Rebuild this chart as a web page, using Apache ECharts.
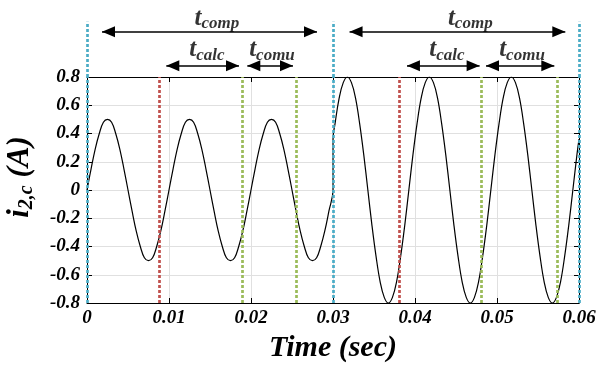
<!DOCTYPE html>
<html>
<head>
<meta charset="utf-8">
<script src="https://cdn.jsdelivr.net/npm/echarts@6/dist/echarts.min.js"></script>
<style>
  html, body { margin: 0; padding: 0; background: #fff; }
  #chart { width: 610px; height: 365px; }
</style>
</head>
<body>
<div id="chart"></div>
<script>
// first part: one sample every 0.5 ms from t = 0
const sampleStep = 0.0005;
const firstStart = 0;
const firstCurrent = [
  0, 0.15, 0.29, 0.40, 0.48, 0.50, 0.48, 0.40, 0.29, 0.15,
  0, -0.15, -0.29, -0.40, -0.48, -0.50, -0.48, -0.40, -0.29, -0.15,
  0, 0.15, 0.29, 0.40, 0.48, 0.50, 0.48, 0.40, 0.29, 0.15,
  0, -0.15, -0.29, -0.40, -0.48, -0.50, -0.48, -0.40, -0.29, -0.15,
  0, 0.15, 0.29, 0.40, 0.48, 0.50, 0.48, 0.40, 0.29, 0.15,
  0, -0.15, -0.29, -0.40, -0.48, -0.50, -0.48, -0.40, -0.29, -0.15,
  0
];
// second part: jump at 0.03, then samples every 0.5 ms from 0.03025
const jumpPoint = [0.03, 0.36];
const secondStart = 0.03025;
const secondCurrent = [
  0.47, 0.65, 0.76, 0.80, 0.76, 0.65, 0.47, 0.25, 0, -0.25,
  -0.47, -0.65, -0.76, -0.80, -0.76, -0.65, -0.47, -0.25, 0, 0.25,
  0.47, 0.65, 0.76, 0.80, 0.76, 0.65, 0.47, 0.25, 0, -0.25,
  -0.47, -0.65, -0.76, -0.80, -0.76, -0.65, -0.47, -0.25, 0, 0.25,
  0.47, 0.65, 0.76, 0.80, 0.76, 0.65, 0.47, 0.25, 0, -0.25,
  -0.47, -0.65, -0.76, -0.80, -0.76, -0.65, -0.47, -0.25, 0, 0.25
];
const endPoint = [0.06, 0.36];

// vertical event markers (sec)
const blueMarks = [0, 0.03, 0.06];
const redMarks = [0.00885, 0.0381];
const greenMarks = [0.01894, 0.0255, 0.0481, 0.0574];

// timing arrows above the plot (sec)
const compArrows = [[0.00183, 0.02805], [0.03202, 0.05833]];
const calcArrows = [[0.00967, 0.01854], [0.03902, 0.04788]];
const comuArrows = [[0.01955, 0.02512], [0.04866, 0.05699]];
const compLabelX = [0.01585, 0.04674];
const calcLabelX = [0.01463, 0.0439];
const comuLabelX = [0.02256, 0.05305];

const xTicks = { min: 0, max: 0.06, interval: 0.01 };
const yTicks = { min: -0.8, max: 0.8, interval: 0.2 };

const FONT = "'Liberation Serif', 'Times New Roman', serif";
const BLUE = '#4bacc6', RED = '#c0504d', GREEN = '#9bbb59';

const curve = [];
firstCurrent.forEach((v, i) => curve.push([firstStart + i * sampleStep, v]));
curve.push(jumpPoint);
secondCurrent.forEach((v, i) => curve.push([secondStart + i * sampleStep, v]));
curve.push(endPoint);

const dash = (c) => ({ color: c, width: 2.7, type: [3, 2] });
const vMarks = [].concat(
  blueMarks.map((x) => ({ xAxis: x, lineStyle: dash(BLUE) })),
  redMarks.map((x) => ({ xAxis: x, lineStyle: dash(RED) })),
  greenMarks.map((x) => ({ xAxis: x, lineStyle: dash(GREEN) }))
);

// annotation band rows (0 = plot top, 1 = chart top)
const bigArrowY = 0.73, smallArrowY = 0.18;
const bigLabelY = 0.95, smallLabelY = 0.44, blueTopY = 0.89;

const arrow = (pair, y) => [{ coord: [pair[0], y] }, { coord: [pair[1], y] }];
const arrowLines = [].concat(
  compArrows.map((p) => arrow(p, bigArrowY)),
  calcArrows.map((p) => arrow(p, smallArrowY)),
  comuArrows.map((p) => arrow(p, smallArrowY))
);
const blueTops = blueMarks.map((x) => [
  { coord: [x, 0], lineStyle: dash(BLUE), symbol: 'none' },
  { coord: [x, blueTopY], symbol: 'none' }
]);

const labelPts = [].concat(
  compLabelX.map((x) => ({ value: [x, bigLabelY], name: 'comp' })),
  calcLabelX.map((x) => ({ value: [x, smallLabelY], name: 'calc' })),
  comuLabelX.map((x) => ({ value: [x, smallLabelY], name: 'comu' }))
);

const italicBold = { fontFamily: FONT, fontWeight: 'bold', fontStyle: 'italic', color: '#000' };
const tickFont = { ...italicBold, fontSize: 19 };
const blackLine = { show: true, onZero: false, lineStyle: { color: '#000', width: 1 } };
const inTick = { show: true, inside: true, length: 5, lineStyle: { color: '#000' } };
const grayGrid = { show: true, lineStyle: { color: '#e0e0e0', width: 1 } };

const chart = echarts.init(document.getElementById('chart'));
chart.setOption({
  animation: false,
  grid: [
    { left: 87, right: 31, top: 77, bottom: 62, outerBoundsMode: 'none', containLabel: false },
    { left: 87, right: 31, top: 15, height: 62, outerBoundsMode: 'none', containLabel: false }
  ],
  xAxis: [
    {
      gridIndex: 0, type: 'value', ...xTicks,
      axisLine: blackLine, axisTick: inTick, splitLine: grayGrid,
      axisLabel: { ...tickFont, margin: 6, formatter: (v) => (v === 0 ? '0' : v.toFixed(2)) },
      name: 'Time (sec)', nameLocation: 'middle', nameGap: 26,
      nameTextStyle: { ...italicBold, fontSize: 30 }
    },
    {
      gridIndex: 0, type: 'value', position: 'top', ...xTicks,
      axisLine: blackLine, axisTick: inTick, axisLabel: { show: false }, splitLine: { show: false }
    },
    { gridIndex: 1, type: 'value', min: 0, max: 0.06, show: false }
  ],
  yAxis: [
    {
      gridIndex: 0, type: 'value', ...yTicks,
      axisLine: blackLine, axisTick: inTick, splitLine: grayGrid,
      axisLabel: { ...tickFont, margin: 7, formatter: (v) => (Math.abs(v) < 1e-9 ? '0' : v.toFixed(1)) },
      name: '{a|i}{b|2,c}{a| (A)}', nameLocation: 'middle', nameRotate: 90, nameGap: 50,
      nameTextStyle: {
        padding: [0, 0, 0, 26],
        rich: {
          a: { ...italicBold, fontSize: 31, lineHeight: 35 },
          b: { ...italicBold, fontSize: 20, lineHeight: 20, padding: [13, 0, 0, 0], verticalAlign: 'bottom' }
        }
      }
    },
    {
      gridIndex: 0, type: 'value', position: 'right', ...yTicks,
      axisLine: blackLine, axisTick: inTick, axisLabel: { show: false }, splitLine: { show: false }
    },
    { gridIndex: 1, type: 'value', min: 0, max: 1, show: false }
  ],
  series: [
    {
      type: 'line', xAxisIndex: 0, yAxisIndex: 0, data: curve,
      showSymbol: false, smooth: 0.4,
      lineStyle: { color: '#000', width: 1.2 },
      markLine: { silent: true, precision: 6, symbol: 'none', label: { show: false }, data: vMarks }
    },
    {
      type: 'line', xAxisIndex: 2, yAxisIndex: 2, data: [],
      markLine: {
        silent: true, precision: 6, symbol: ['triangle', 'triangle'],
        symbolSize: [11, 13], symbolOffset: [[0, 6.5], [0, 6.5]],
        label: { show: false },
        lineStyle: { color: '#000', width: 1.6, type: 'solid' },
        data: arrowLines.concat(blueTops)
      }
    },
    {
      type: 'scatter', xAxisIndex: 2, yAxisIndex: 2, symbolSize: 0, clip: false,
      data: labelPts,
      label: {
        show: true, position: 'inside',
        formatter: (p) => '{t|t}{s|' + p.name + '}',
        rich: {
          t: { ...italicBold, fontSize: 25, lineHeight: 28 },
          s: { ...italicBold, fontSize: 17, lineHeight: 17, padding: [10, 0, 0, 0], verticalAlign: 'bottom' }
        }
      }
    }
  ]
});
</script>
</body>
</html>
